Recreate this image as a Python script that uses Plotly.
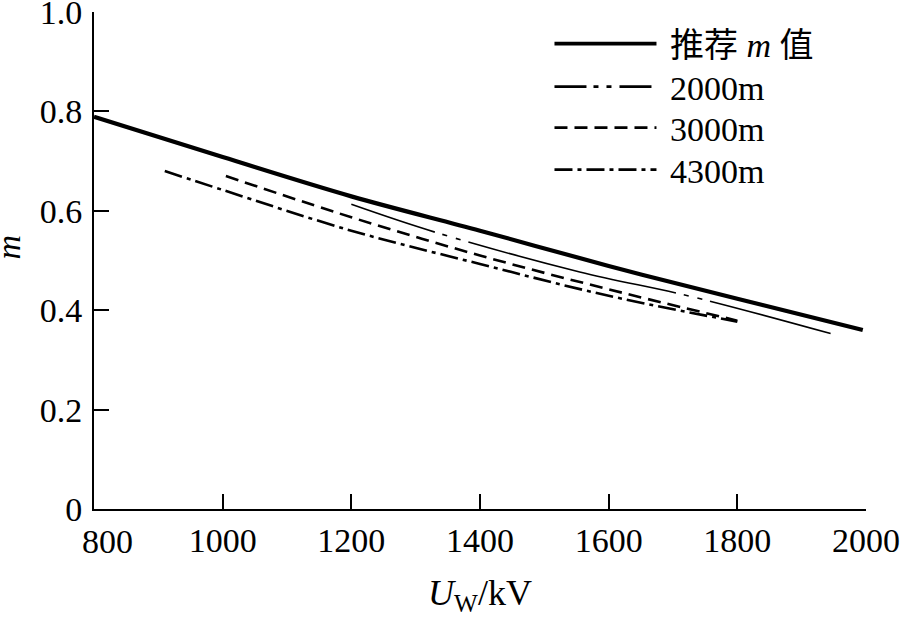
import plotly.graph_objects as go

# Valores
rec_x = [800, 1000, 1200, 1400, 1600, 1800, 1995]
rec_y = [0.789, 0.708, 0.629, 0.560, 0.489, 0.423, 0.360]

m2000_x = [1200, 1330, 1555, 1730, 1945]
m2000_y = [0.613, 0.557, 0.477, 0.427, 0.353]

m3000_x = [1005, 1200, 1400, 1600, 1800]
m3000_y = [0.670, 0.587, 0.510, 0.442, 0.379]

m4300_x = [910, 1000, 1200, 1400, 1600, 1800]
m4300_y = [0.680, 0.642, 0.560, 0.493, 0.429, 0.377]

names = [" 推荐 <i>m</i> 值", " 2000m", " 3000m", " 4300m"]

x_ticks = [800, 1000, 1200, 1400, 1600, 1800, 2000]
x_ticktext = ["", "1000", "1200", "1400", "1600", "1800", "2000"]
y_ticks = [0, 0.2, 0.4, 0.6, 0.8, 1.0]
y_ticktext = ["0", "0.2", "0.4", "0.6", "0.8", "1.0"]

SERIF = "Liberation Serif, Times New Roman, serif"
CJK = "Liberation Serif, Noto Sans CJK SC, serif"
BLACK = "#000000"

# patrones de trazo: en el gráfico y en la leyenda
dash_2000_plot = "88px,8px,5px,9px,5px,8px,214px,8px,5px,9px,5px,8px,300px"
dash_2000_leg = "32px,7px,5px,8px,5px,8px"
dash_3000 = "13px,7px"
dash_4300 = "18px,5px,4px,5px"

fig = go.Figure()

series = [
    (rec_x, rec_y, dict(color=BLACK, width=4.2)),
    (m2000_x, m2000_y, dict(color=BLACK, width=1.6, dash=dash_2000_plot)),
    (m3000_x, m3000_y, dict(color=BLACK, width=2.6, dash=dash_3000)),
    (m4300_x, m4300_y, dict(color=BLACK, width=2.6, dash=dash_4300)),
]
for xs, ys, ln in series:
    fig.add_trace(go.Scatter(x=xs, y=ys, mode="lines", line=ln, line_shape="spline",
                             showlegend=False))

# trazas solo para la leyenda (una leyenda por entrada para fijar el espaciado)
legend_lines = [
    dict(color=BLACK, width=3.6),
    dict(color=BLACK, width=2.6, dash=dash_2000_leg),
    dict(color=BLACK, width=2.6, dash=dash_3000),
    dict(color=BLACK, width=2.6, dash=dash_4300),
]
legend_ids = ["legend", "legend2", "legend3", "legend4"]
legend_y = [0.9356, 0.8491, 0.7666, 0.6821]

for nm, ln, lid in zip(names, legend_lines, legend_ids):
    fig.add_trace(go.Scatter(x=[None], y=[None], mode="lines", line=ln, name=nm, legend=lid))

legend_style = dict(
    x=0.590,
    xanchor="left",
    yanchor="middle",
    itemwidth=102,
    bgcolor="rgba(0,0,0,0)",
    font=dict(family=CJK, size=34, color=BLACK),
)
legends = {lid: dict(legend_style, y=ly) for lid, ly in zip(legend_ids, legend_y)}

axis_common = dict(
    ticks="inside",
    ticklen=15,
    tickwidth=1.5,
    tickcolor=BLACK,
    showline=True,
    linecolor=BLACK,
    linewidth=1.8,
    showgrid=False,
    zeroline=False,
    automargin=False,
)

fig.update_layout(
    width=905,
    height=619,
    margin=dict(l=94, r=39, t=12, b=110),
    paper_bgcolor="white",
    plot_bgcolor="white",
    font=dict(family=SERIF, size=34, color=BLACK),
    xaxis=dict(
        axis_common,
        range=[800, 2000],
        tickvals=x_ticks,
        ticktext=x_ticktext,
        title=dict(text="<i>U</i><sub>W</sub>/kV", standoff=22,
                   font=dict(family=SERIF, size=36, color=BLACK)),
    ),
    yaxis=dict(
        axis_common,
        range=[0, 1.0],
        tickvals=y_ticks,
        ticktext=y_ticktext,
        ticklabelstandoff=3,
        ticklabeloverflow="allow",
    ),
    **legends,
)

# eje y: "m"
fig.add_annotation(
    text="<i>m</i>",
    xref="paper",
    yref="paper",
    x=-0.111,
    y=0.527,
    xanchor="center",
    yanchor="middle",
    showarrow=False,
    textangle=-90,
    font=dict(family=SERIF, size=34, color=BLACK),
)

# etiqueta 800 desplazada a la derecha, como en el original
fig.add_annotation(
    text=str(x_ticks[0]),
    xref="x",
    yref="paper",
    x=x_ticks[0],
    y=0,
    xanchor="left",
    yanchor="middle",
    xshift=-14,
    yshift=-32,
    showarrow=False,
    font=dict(family=SERIF, size=34, color=BLACK),
)

# quitar el margen del body para que la figura empiece en (0, 0)
fig.write_html(
    "out.html",
    config={"displayModeBar": False},
    post_script="document.body.style.margin='0px';",
)
